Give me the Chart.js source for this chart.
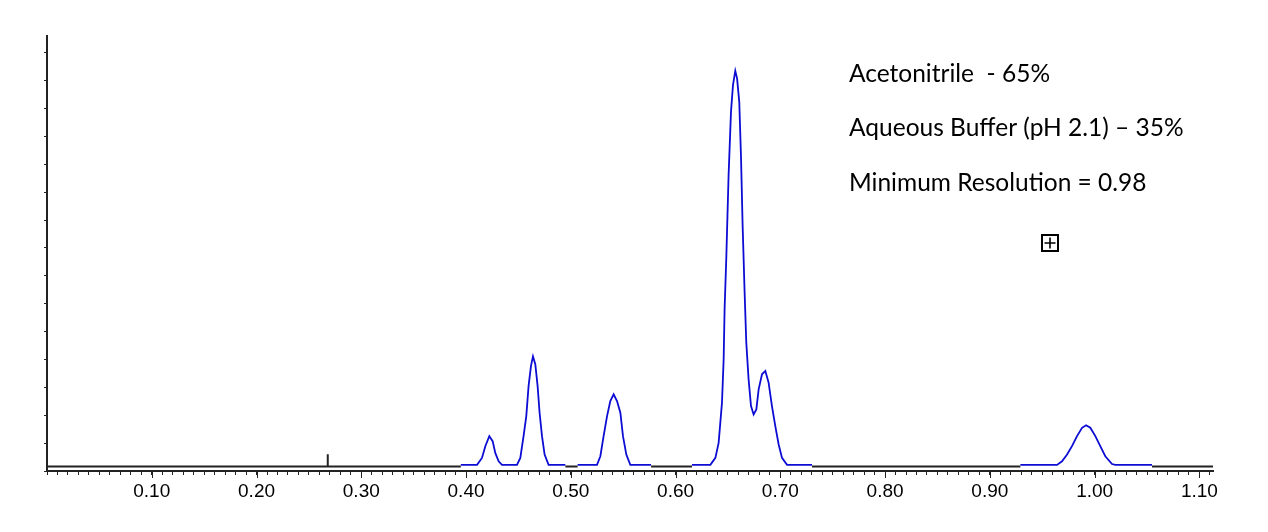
<!DOCTYPE html>
<html>
  <head>
    <title>Chromatogram</title>
    <script src="https://cdn.jsdelivr.net/npm/chart.js@4.4.1/dist/chart.umd.min.js"></script>
    <style>
      body { margin: 0; background: #fff; }
    </style>
  </head>

  <body>
    <canvas id="canvas" width="1268" height="532"></canvas>
    <script>
      // retention (x) / detector response (y), one array per peak group
      const peakGroupA = [
        [0.395, 0.22], [0.4105, 0.22], [0.4152, 0.47], [0.4184, 0.89], [0.4222, 1.25],
        [0.4254, 1.07], [0.4279, 0.65], [0.4311, 0.35], [0.4343, 0.22], [0.4486, 0.22],
        [0.4518, 0.47], [0.4549, 1.25], [0.4575, 1.97], [0.4597, 3.05], [0.462, 3.77],
        [0.4639, 4.11], [0.4661, 3.83], [0.4683, 3.05], [0.4702, 2.09], [0.4725, 1.25],
        [0.475, 0.59], [0.4788, 0.22], [0.4948, 0.22],
      ];
      const peakGroupB = [
        [0.5065, 0.22], [0.525, 0.22], [0.5282, 0.53], [0.5313, 1.25], [0.5346, 1.97],
        [0.5377, 2.51], [0.5409, 2.75], [0.5441, 2.51], [0.5473, 2.09], [0.5498, 1.25],
        [0.553, 0.59], [0.5568, 0.22], [0.5766, 0.22],
      ];
      const peakGroupC = [
        [0.6157, 0.22], [0.6332, 0.22], [0.638, 0.47], [0.6411, 1.01], [0.6443, 2.45],
        [0.6459, 4.01], [0.6468, 5.81], [0.6484, 7.61], [0.6506, 10.6], [0.6529, 12.88],
        [0.6548, 13.84], [0.657, 14.35], [0.6587, 14.08], [0.6608, 13.24], [0.6625, 11.21],
        [0.664, 8.81], [0.6659, 6.41], [0.6675, 4.61], [0.6697, 3.29], [0.672, 2.33],
        [0.6745, 2.03], [0.6771, 2.21], [0.6793, 2.93], [0.6825, 3.47], [0.6857, 3.59],
        [0.6888, 3.17], [0.692, 2.33], [0.6952, 1.61], [0.6984, 0.95], [0.7016, 0.47],
        [0.7064, 0.22], [0.7302, 0.22],
      ];
      const peakGroupD = [
        [0.9291, 0.22], [0.9641, 0.22], [0.9689, 0.35], [0.9737, 0.59], [0.9784, 0.89],
        [0.9832, 1.25], [0.988, 1.55], [0.9918, 1.64], [0.9959, 1.55], [1.0007, 1.25],
        [1.0054, 0.89], [1.0102, 0.53], [1.0166, 0.25], [1.0198, 0.22], [1.0548, 0.22],
      ];
      // stretches with no peak, drawn black by the software
      const baselineSegments = [[0, 0.395], [0.4948, 0.5065], [0.5766, 0.6157], [0.7302, 0.9291], [1.0548, 1.113]];
      const baselineLevel = 0.16;
      const injectionMark = [0.268, 0.6];

      const notes = ['Acetonitrile  - 65%', 'Aqueous Buffer (pH 2.1) \u2013 35%', 'Minimum Resolution = 0.98'];

      const xMax = 1.113;
      const yMax = 15.6;

      const toPoints = (arr) => arr.map(([x, y]) => ({ x, y }));

      const traceData = [];
      [peakGroupA, peakGroupB, peakGroupC, peakGroupD].forEach((g, i, all) => {
        traceData.push(...toPoints(g));
        if (i < all.length - 1) traceData.push({ x: (g[g.length - 1][0] + all[i + 1][0][0]) / 2, y: null });
      });

      const baseData = [];
      baselineSegments.forEach(([s, e], i) => {
        baseData.push({ x: s, y: baselineLevel });
        if (injectionMark[0] > s && injectionMark[0] < e) {
          baseData.push({ x: injectionMark[0], y: baselineLevel });
          baseData.push({ x: injectionMark[0], y: injectionMark[1] });
          baseData.push({ x: injectionMark[0], y: baselineLevel });
        }
        baseData.push({ x: e, y: baselineLevel });
        if (i < baselineSegments.length - 1) baseData.push({ x: (e + baselineSegments[i + 1][0]) / 2, y: null });
      });

      // longer marks at every 0.10, the scale itself draws the 0.01 ones
      const majorTicks = {
        id: 'majorTicks',
        afterDraw(chart) {
          const { ctx, chartArea, scales } = chart;
          ctx.save();
          ctx.strokeStyle = '#222';
          ctx.lineWidth = 1;
          for (let v = 1; v <= 11; v++) {
            const px = Math.round(scales.x.getPixelForValue(v / 10)) + 0.5;
            ctx.beginPath();
            ctx.moveTo(px, chartArea.bottom);
            ctx.lineTo(px, chartArea.bottom + 7);
            ctx.stroke();
          }
          ctx.restore();
        },
      };

      const notesPlugin = {
        id: 'notes',
        afterDraw(chart) {
          const { ctx } = chart;
          ctx.save();
          ctx.fillStyle = '#000';
          ctx.font = '24.5px Lato, "Open Sans", sans-serif';
          ctx.textBaseline = 'alphabetic';
          notes.forEach((t, i) => ctx.fillText(t, 849, 82 + i * 54.3));
          // crosshair box marker
          ctx.strokeStyle = '#000';
          ctx.lineWidth = 2;
          ctx.strokeRect(1042, 235, 16, 16);
          ctx.lineWidth = 1.6;
          ctx.beginPath();
          ctx.moveTo(1044.5, 243); ctx.lineTo(1055.5, 243);
          ctx.moveTo(1050, 237.5); ctx.lineTo(1050, 248.5);
          ctx.stroke();
          ctx.restore();
        },
      };

      window.onload = () => {
        const ctx = document.getElementById('canvas').getContext('2d');
        window.myChart = new Chart(ctx, {
          type: 'line',
          data: {
            datasets: [
              {
                label: 'baseline',
                data: baseData,
                borderColor: '#222',
                borderWidth: 2,
                pointRadius: 0,
                tension: 0,
              },
              {
                label: 'signal',
                data: traceData,
                borderColor: '#0c0cd4',
                borderWidth: 1.8,
                pointRadius: 0,
                tension: 0,
              },
            ],
          },
          options: {
            responsive: false,
            animation: false,
            layout: { padding: { left: 0, right: 55, top: 36, bottom: 0 } },
            plugins: { legend: { display: false }, tooltip: { enabled: false } },
            scales: {
              x: {
                type: 'linear',
                min: 0,
                max: xMax,
                afterFit: (s) => { s.height = 61; },
                border: { color: '#222', width: 2 },
                grid: { drawOnChartArea: false, tickLength: 4, tickColor: '#222' },
                ticks: {
                  stepSize: 0.01,
                  autoSkip: false,
                  maxRotation: 0,
                  includeBounds: false,
                  padding: 5,
                  color: '#000',
                  font: { family: '"Liberation Sans", Arial', size: 19 },
                  callback: (v) => {
                    const n = Math.round(v * 100);
                    return n > 0 && n % 10 === 0 ? (n / 100).toFixed(2) : '';
                  },
                },
              },
              y: {
                min: 0,
                max: yMax,
                afterFit: (s) => { s.width = 47; },
                border: { color: '#222', width: 2 },
                grid: { drawOnChartArea: false, tickLength: 3, tickColor: '#222' },
                ticks: { stepSize: 1, includeBounds: false, display: false },
              },
            },
          },
          plugins: [majorTicks, notesPlugin],
        });
      };
    </script>
  </body>
</html>
